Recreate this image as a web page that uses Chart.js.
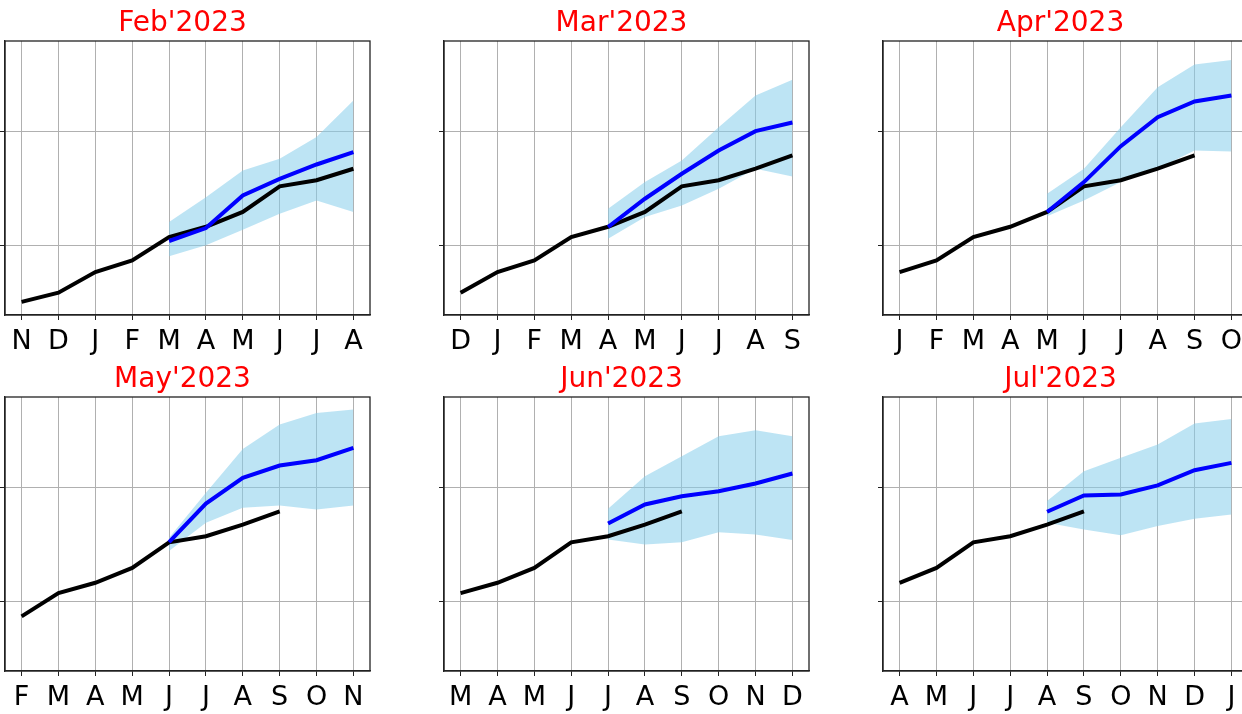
<!DOCTYPE html>
<html>
<head>
<meta charset="utf-8">
<script src="https://cdn.jsdelivr.net/npm/chart.js@4/dist/chart.umd.min.js"></script>
<style>
  html, body { margin: 0; padding: 0; background: #fff; overflow: hidden; }
  #wrap { position: relative; width: 1242px; height: 714px; overflow: hidden; }
  #wrap canvas { position: absolute; }
</style>
</head>
<body>
<div id="wrap"></div>
<script>
// observed series, Nov 2022 .. Sep 2023 (one value per month)
const obsMonths = ['N', 'D', 'J', 'F', 'M', 'A', 'M', 'J', 'J', 'A', 'S'];
const observed  = [-0.49, -0.41, -0.23, -0.128, 0.075, 0.165, 0.295, 0.518, 0.572, 0.672, 0.788];

const titles = ["Feb'2023", "Mar'2023", "Apr'2023", "May'2023", "Jun'2023", "Jul'2023"];

// x tick labels of every panel
const febLabels = ['N', 'D', 'J', 'F', 'M', 'A', 'M', 'J', 'J', 'A'];
const marLabels = ['D', 'J', 'F', 'M', 'A', 'M', 'J', 'J', 'A', 'S'];
const aprLabels = ['J', 'F', 'M', 'A', 'M', 'J', 'J', 'A', 'S', 'O'];
const mayLabels = ['F', 'M', 'A', 'M', 'J', 'J', 'A', 'S', 'O', 'N'];
const junLabels = ['M', 'A', 'M', 'J', 'J', 'A', 'S', 'O', 'N', 'D'];
const julLabels = ['A', 'M', 'J', 'J', 'A', 'S', 'O', 'N', 'D', 'J'];

// forecast mean / upper / lower, six months starting at panel index 4
const febMean = [0.041, 0.154, 0.439, 0.584, 0.709, 0.817];
const febHi   = [0.206, 0.424, 0.657, 0.759, 0.948, 1.267];
const febLo   = [-0.093, 0.003, 0.14, 0.279, 0.395, 0.294];

const marMean = [0.163, 0.41, 0.628, 0.831, 1.0, 1.076];
const marHi   = [0.323, 0.555, 0.744, 1.035, 1.311, 1.448];
const marLo   = [0.061, 0.25, 0.352, 0.497, 0.671, 0.605];

const aprMean = [0.294, 0.555, 0.869, 1.122, 1.259, 1.311];
const aprHi   = [0.453, 0.671, 1.035, 1.384, 1.581, 1.622];
const aprLo   = [0.256, 0.395, 0.555, 0.671, 0.831, 0.822];

const mayMean = [0.52, 0.857, 1.081, 1.189, 1.235, 1.343];
const mayHi   = [0.558, 0.951, 1.334, 1.546, 1.648, 1.677];
const mayLo   = [0.442, 0.689, 0.82, 0.84, 0.805, 0.84];

const junMean = [0.683, 0.849, 0.921, 0.965, 1.032, 1.119];
const junHi   = [0.811, 1.096, 1.27, 1.445, 1.497, 1.445];
const junLo   = [0.544, 0.5, 0.52, 0.607, 0.587, 0.538];

const julMean = [0.785, 0.927, 0.936, 1.015, 1.148, 1.212];
const julHi   = [0.878, 1.139, 1.256, 1.372, 1.555, 1.596];
const julLo   = [0.689, 0.631, 0.579, 0.66, 0.724, 0.762];

// where each panel starts in the observed series
const obsStart = [0, 1, 2, 3, 4, 5];

const yTicks = [0, 1];
const fcStart = 4;

const panels = [
  { labels: febLabels, mean: febMean, hi: febHi, lo: febLo },
  { labels: marLabels, mean: marMean, hi: marHi, lo: marLo },
  { labels: aprLabels, mean: aprMean, hi: aprHi, lo: aprLo },
  { labels: mayLabels, mean: mayMean, hi: mayHi, lo: mayLo },
  { labels: junLabels, mean: junMean, hi: junHi, lo: junLo },
  { labels: julLabels, mean: julMean, hi: julHi, lo: julLo }
];

// layout (frame of each plot)
const frameLeft = [5, 444, 883];
const frameTop = [41, 397];
const frameW = 365, frameH = 274;
const yAxisW = 10, titleH = 41, xAxisH = 42, padRight = 12;

const toPts = (arr, start) => arr.map((v, i) => ({ x: start + i, y: v }));

const framePlugin = {
  id: 'frame',
  afterDraw(chart) {
    const a = chart.chartArea, ctx = chart.ctx;
    ctx.save();
    ctx.strokeStyle = '#222';
    ctx.lineWidth = 1.3;
    ctx.strokeRect(a.left, a.top, a.right - a.left, a.bottom - a.top);
    ctx.restore();
  }
};

const wrap = document.getElementById('wrap');

panels.forEach((p, k) => {
  const col = k % 3, row = Math.floor(k / 3);
  const cv = document.createElement('canvas');
  const w = yAxisW + frameW + padRight, h = titleH + frameH + xAxisH;
  cv.width = w; cv.height = h;
  cv.style.width = w + 'px'; cv.style.height = h + 'px';
  cv.style.left = (frameLeft[col] - yAxisW) + 'px';
  cv.style.top = (frameTop[row] - titleH) + 'px';
  wrap.appendChild(cv);

  const n = p.labels.length;
  const obs = observed.slice(obsStart[k], obsStart[k] + n);

  new Chart(cv, {
    type: 'line',
    data: {
      datasets: [
        { data: toPts(p.mean, fcStart), borderColor: '#0000ff', borderWidth: 4, pointRadius: 0, fill: false, tension: 0 },
        { data: toPts(obs, 0), borderColor: '#000', borderWidth: 4, pointRadius: 0, fill: false, tension: 0 },
        { data: toPts(p.hi, fcStart), borderWidth: 0, borderColor: 'rgba(0,0,0,0)', pointRadius: 0,
          backgroundColor: 'rgba(135,206,235,0.55)', fill: '+1', tension: 0 },
        { data: toPts(p.lo, fcStart), borderWidth: 0, borderColor: 'rgba(0,0,0,0)', pointRadius: 0, fill: false, tension: 0 }
      ]
    },
    options: {
      responsive: false,
      animation: false,
      layout: { padding: { top: 0, left: 0, right: padRight, bottom: 0 } },
      plugins: {
        legend: { display: false },
        tooltip: { enabled: false },
        title: {
          display: true,
          text: titles[k],
          color: '#ff0000',
          font: { family: 'DejaVu Sans', size: 28, weight: 'normal', lineHeight: 1.1 },
          padding: { top: 8, bottom: 2.2 }
        }
      },
      scales: {
        x: {
          type: 'linear',
          min: -0.45, max: n - 1 + 0.45,
          afterBuildTicks: s => { s.ticks = p.labels.map((_, i) => ({ value: i })); },
          afterFit: s => { s.height = xAxisH; },
          grid: { color: '#b0b0b0', lineWidth: 1, tickLength: 5, tickColor: '#222' },
          border: { color: '#222', width: 1.3 },
          ticks: {
            color: '#000', padding: 6, maxRotation: 0, autoSkip: false,
            font: { family: 'DejaVu Sans', size: 27 },
            callback: v => p.labels[Math.round(v)]
          }
        },
        y: {
          min: -0.605, max: 1.787,
          afterBuildTicks: s => { s.ticks = yTicks.map(v => ({ value: v })); },
          afterFit: s => { s.width = yAxisW; },
          grid: { color: '#b0b0b0', lineWidth: 1, tickLength: 5, tickColor: '#222' },
          border: { color: '#222', width: 1.3 },
          ticks: { display: false }
        }
      }
    },
    plugins: [framePlugin]
  });
});
</script>
</body>
</html>
